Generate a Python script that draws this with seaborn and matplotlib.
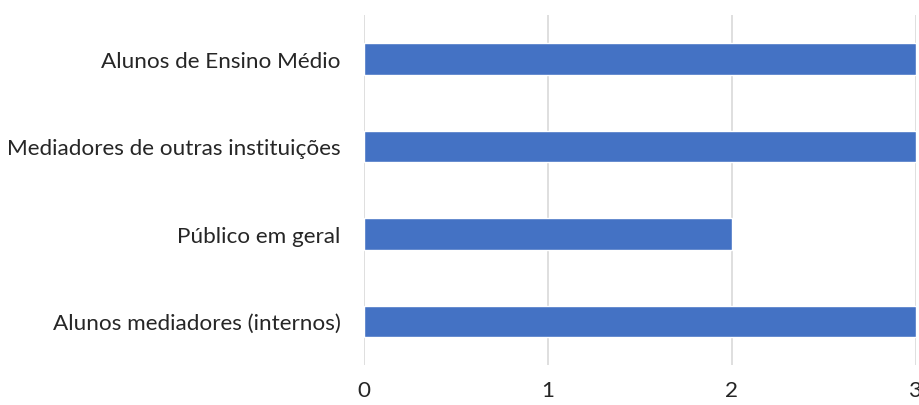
import matplotlib
matplotlib.use("Agg")
import matplotlib.pyplot as plt
import seaborn as sns
import pandas as pd

categories = [
    "Alunos de Ensino Médio",
    "Mediadores de outras instituições",
    "Público em geral",
    "Alunos mediadores (internos)",
]
values = [3, 3, 2, 3]
x_ticks = [0, 1, 2, 3]

sns.set_theme(style="white")
plt.rcParams["font.family"] = ["Lato", "DejaVu Sans"]

df = pd.DataFrame({"categoria": categories, "valor": values})

fig = plt.figure(figsize=(9.2, 4.06), dpi=100)
ax = fig.add_axes([364 / 920, 40 / 406, (916 - 364) / 920, 350 / 406])

sns.barplot(data=df, x="valor", y="categoria", orient="h", color="#4472C4",
            width=0.36, saturation=1, ax=ax, zorder=3)

ax.set_xlim(0, 3)
ax.set_ylim(3.5, -0.5)
ax.set_xticks(x_ticks)
ax.set_xticklabels([str(t) for t in x_ticks])
ax.set_xlabel("")
ax.set_ylabel("")
for s in ax.spines.values():
    s.set_visible(False)
ax.grid(axis="x", color="#d9d9d9", linewidth=1.2, zorder=0)
ax.grid(axis="y", visible=False)
ax.tick_params(axis="y", length=0, pad=17, labelsize=16.2, colors="#262626")
ax.tick_params(axis="x", length=0, pad=11, labelsize=16.2, colors="#262626")
for lbl in ax.get_xticklabels():
    lbl.set_clip_on(False)

fig.savefig("out.png", dpi=100)
